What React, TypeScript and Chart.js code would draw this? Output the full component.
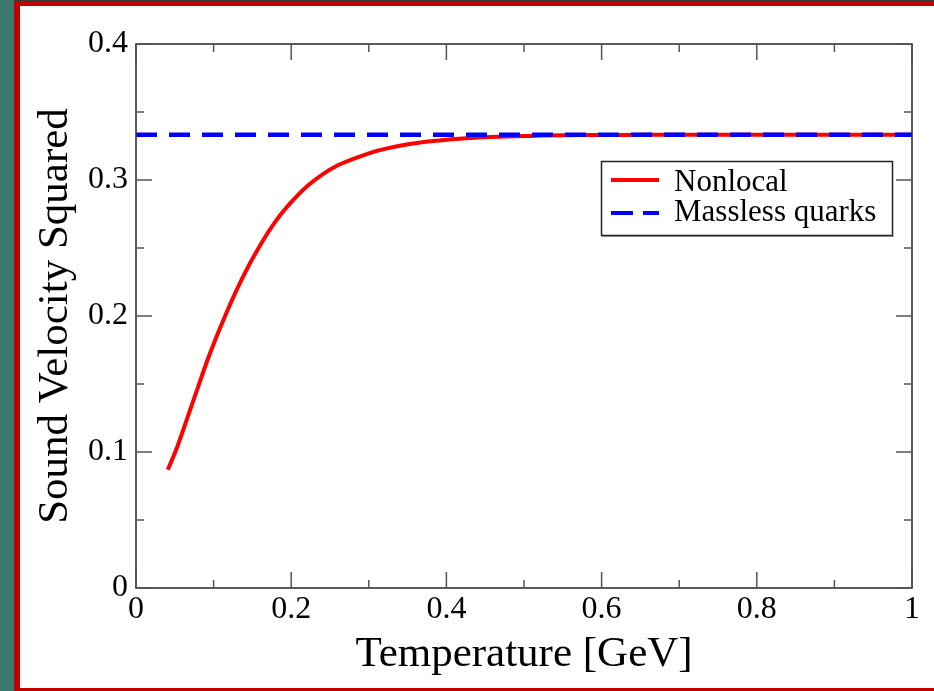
import React, { useEffect, useRef } from "react";
import { Chart, registerables } from "chart.js";

Chart.register(...registerables);

// ---- Data ----
const nonlocalT = [0.041, 0.052, 0.074, 0.095, 0.117, 0.138, 0.16, 0.181, 0.203, 0.22, 0.24, 0.26, 0.28, 0.302, 0.345, 0.388, 0.426, 0.508, 0.572, 0.65, 0.75, 0.85, 1.0];
const nonlocalCs2 = [0.087, 0.102, 0.138, 0.172, 0.203, 0.229, 0.252, 0.2705, 0.2855, 0.2952, 0.304, 0.3108, 0.3155, 0.32, 0.3257, 0.3289, 0.3307, 0.3324, 0.333, 0.3332, 0.3333, 0.3333, 0.3333];
const masslessT = [0, 1];
const masslessCs2 = [0.3333, 0.3333];

const seriesLabels = ["Nonlocal", "Massless quarks"];
const xTickValues = [0, 0.2, 0.4, 0.6, 0.8, 1];
const xTickLabels = ["0", "0.2", "0.4", "0.6", "0.8", "1"];
const xMinorTicks = [0.1, 0.3, 0.5, 0.7, 0.9];
const yTickValues = [0, 0.1, 0.2, 0.3, 0.4];
const yTickLabels = ["0", "0.1", "0.2", "0.3", "0.4"];
const yMinorTicks = [0.05, 0.15, 0.25, 0.35];
const xTitle = "Temperature [GeV]";
const yTitle = "Sound Velocity Squared";

const FONT = "'Liberation Serif', 'Times New Roman', serif";
const RED = "#ff0000";
const BLUE = "#0000ff";

const decorPlugin = {
  id: "decor",
  beforeDraw(chart: any) {
    const { ctx, width, height } = chart;
    ctx.save();
    ctx.fillStyle = "#ffffff";
    ctx.fillRect(0, 0, width, height);
    ctx.fillStyle = "#3b786d";
    ctx.fillRect(0, 0, 14, height);
    ctx.fillStyle = "#c30000";
    ctx.fillRect(14, 0, width - 14, 6);
    ctx.fillRect(14, 0, 6, height);
    ctx.fillRect(14, 688, width - 14, 3);
    ctx.fillStyle = "#3a3a3a";
    ctx.fillRect(14, 0, width - 14, 1);
    ctx.restore();
  },
  afterDraw(chart: any) {
    const { ctx, chartArea } = chart;
    const xs = chart.scales.x;
    const ys = chart.scales.y;
    const { left, right, top, bottom } = chartArea;
    ctx.save();
    // frame
    ctx.strokeStyle = "#333";
    ctx.lineWidth = 1.6;
    ctx.strokeRect(left, top, right - left, bottom - top);
    // ticks (inward on all sides)
    ctx.strokeStyle = "#555";
    ctx.lineWidth = 1.5;
    const tick = (x1: number, y1: number, x2: number, y2: number) => {
      ctx.beginPath();
      ctx.moveTo(x1, y1);
      ctx.lineTo(x2, y2);
      ctx.stroke();
    };
    xTickValues.forEach((v) => {
      const px = xs.getPixelForValue(v);
      tick(px, bottom, px, bottom - 16);
      tick(px, top, px, top + 16);
    });
    xMinorTicks.forEach((v) => {
      const px = xs.getPixelForValue(v);
      tick(px, bottom, px, bottom - 8);
      tick(px, top, px, top + 8);
    });
    yTickValues.forEach((v) => {
      const py = ys.getPixelForValue(v);
      tick(left, py, left + 16, py);
      tick(right, py, right - 16, py);
    });
    yMinorTicks.forEach((v) => {
      const py = ys.getPixelForValue(v);
      tick(left, py, left + 8, py);
      tick(right, py, right - 8, py);
    });
    // legend
    ctx.fillStyle = "#ffffff";
    ctx.fillRect(601, 161, 292, 75);
    ctx.strokeStyle = "#222";
    ctx.lineWidth = 1.5;
    ctx.strokeRect(601.5, 161.5, 291, 74);
    ctx.strokeStyle = "#888";
    ctx.lineWidth = 1;
    tick(602, 236.5, 894, 236.5);
    ctx.lineCap = "butt";
    ctx.lineWidth = 4;
    ctx.strokeStyle = RED;
    ctx.setLineDash([]);
    tick(611, 180, 659, 180);
    ctx.strokeStyle = BLUE;
    ctx.setLineDash([22, 10]);
    tick(611, 213, 659, 213);
    ctx.setLineDash([]);
    ctx.fillStyle = "#000";
    ctx.font = `31px ${FONT}`;
    ctx.textAlign = "left";
    ctx.textBaseline = "alphabetic";
    ctx.fillText(seriesLabels[0], 674, 191);
    ctx.fillText(seriesLabels[1], 674, 221);
    ctx.restore();
  },
};

export default function App() {
  const ref = useRef<HTMLCanvasElement | null>(null);
  useEffect(() => {
    if (!ref.current) return;
    const chart = new Chart(ref.current, {
      type: "line",
      data: {
        datasets: [
          {
            label: seriesLabels[0],
            data: nonlocalT.map((t, i) => ({ x: t, y: nonlocalCs2[i] })),
            borderColor: RED,
            borderWidth: 4,
            pointRadius: 0,
            cubicInterpolationMode: "monotone",
            fill: false,
            order: 1,
          },
          {
            label: seriesLabels[1],
            data: masslessT.map((t, i) => ({ x: t, y: masslessCs2[i] })),
            borderColor: BLUE,
            borderWidth: 4.5,
            borderDash: [21, 12],
            borderCapStyle: "butt",
            pointRadius: 0,
            fill: false,
            order: 0,
          },
        ],
      },
      options: {
        responsive: false,
        animation: false,
        devicePixelRatio: 1,
        layout: { padding: { left: 0, top: 44, right: 22, bottom: 0 } },
        plugins: { legend: { display: false }, tooltip: { enabled: false } },
        scales: {
          x: {
            type: "linear",
            min: 0,
            max: 1,
            grid: { display: false, drawTicks: false },
            border: { display: false },
            afterBuildTicks: (s: any) => {
              s.ticks = xTickValues.map((v) => ({ value: v }));
            },
            afterFit: (s: any) => {
              s.height = 103;
            },
            ticks: {
              padding: 2,
              color: "#000",
              font: { family: FONT, size: 32, lineHeight: 1.2 },
              maxRotation: 0,
              autoSkip: false,
              callback: (v: any) => xTickLabels[xTickValues.indexOf(Number(v))] ?? "",
            },
            title: {
              display: true,
              text: xTitle,
              color: "#000",
              font: { family: FONT, size: 43, lineHeight: 1.2 },
              padding: { top: 0, bottom: 10 },
            },
          },
          y: {
            type: "linear",
            min: 0,
            max: 0.4,
            grid: { display: false, drawTicks: false },
            border: { display: false },
            afterBuildTicks: (s: any) => {
              s.ticks = yTickValues.map((v) => ({ value: v }));
            },
            afterFit: (s: any) => {
              s.width = 136;
            },
            ticks: {
              padding: 8,
              color: "#000",
              font: { family: FONT, size: 32, lineHeight: 1.2 },
              autoSkip: false,
              callback: (v: any) => yTickLabels[yTickValues.indexOf(Number(v))] ?? "",
            },
            title: {
              display: true,
              text: yTitle,
              color: "#000",
              font: { family: FONT, size: 43, lineHeight: 1.2 },
              padding: { top: 30, bottom: 0 },
            },
          },
        },
      },
      plugins: [decorPlugin],
    } as any);
    return () => chart.destroy();
  }, []);
  return (
    <div style={{ position: "absolute", left: 0, top: 0, width: 934, height: 691 }}>
      <canvas ref={ref} width={934} height={691} style={{ display: "block", width: 934, height: 691 }} />
    </div>
  );
}
